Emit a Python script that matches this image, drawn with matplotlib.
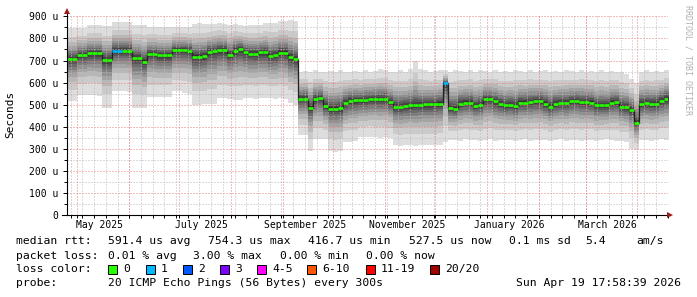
import matplotlib
matplotlib.use("Agg")
import matplotlib.pyplot as plt
import matplotlib.dates as mdates
from matplotlib.lines import Line2D
from matplotlib.patches import Rectangle
from datetime import datetime, timedelta
import numpy as np

W, H = 697, 297
plt.rcParams['font.family'] = ['DejaVu Sans Mono']

# time frame of the graph (3 day steps)
start = datetime(2025, 4, 24, 18, 0)
end = datetime(2026, 4, 19, 6, 0)
step_days = 3

# median rtt per step (microseconds)
median = [707, 707, 725, 725, 733, 733, 733, 703, 703, 745,
          745, 745, 745, 712, 712, 695, 730, 730, 724, 724,
          724, 748, 748, 748, 745, 718, 718, 722, 740, 742,
          749, 749, 727, 745, 752, 740, 731, 731, 738, 738,
          722, 725, 736, 736, 714, 706, 528, 528, 487, 525,
          532, 495, 482, 482, 485, 509, 518, 520, 520, 522,
          525, 527, 525, 527, 512, 492, 490, 495, 497, 498,
          500, 502, 502, 504, 505, 597, 485, 482, 505, 510,
          510, 494, 500, 525, 525, 515, 505, 497, 500, 495,
          510, 510, 512, 516, 516, 505, 492, 505, 508, 508,
          515, 517, 512, 512, 510, 497, 497, 497, 510, 512,
          492, 490, 478, 418, 505, 508, 505, 505, 518, 528]

# slowest ping per step
hi = [846, 846, 846, 846, 860, 860, 860, 855, 855, 876,
      876, 876, 876, 860, 860, 860, 853, 853, 853, 853,
      853, 852, 852, 852, 852, 865, 868, 866, 864, 866,
      870, 866, 862, 866, 860, 858, 860, 862, 860, 870,
      870, 870, 880, 878, 882, 880, 648, 652, 650, 655,
      650, 648, 652, 650, 655, 650, 648, 652, 650, 655,
      650, 652, 660, 655, 650, 650, 655, 650, 660, 700,
      660, 655, 650, 652, 655, 655, 650, 655, 652, 650,
      655, 650, 655, 652, 650, 655, 650, 652, 650, 655,
      652, 650, 655, 650, 652, 655, 650, 652, 650, 655,
      652, 650, 655, 650, 652, 650, 655, 650, 652, 650,
      648, 640, 615, 600, 650, 655, 650, 652, 650, 655]

# fastest ping per step
lo = [515, 515, 543, 543, 545, 543, 540, 487, 487, 560,
      562, 560, 558, 485, 485, 485, 537, 535, 537, 537,
      535, 560, 560, 555, 550, 500, 500, 502, 505, 505,
      530, 530, 528, 520, 520, 530, 532, 528, 530, 532,
      530, 528, 530, 525, 510, 498, 362, 362, 290, 344,
      344, 344, 290, 288, 290, 332, 332, 335, 352, 352,
      355, 352, 350, 352, 350, 317, 315, 317, 320, 315,
      317, 318, 316, 317, 318, 330, 342, 340, 338, 344,
      340, 342, 336, 340, 344, 338, 340, 342, 340, 336,
      340, 344, 338, 340, 342, 340, 335, 340, 344, 338,
      342, 340, 336, 340, 342, 338, 340, 344, 340, 338,
      335, 330, 300, 294, 340, 342, 338, 340, 344, 340]

# lost pings per step
loss = [0, 0, 0, 0, 0, 0, 0, 0, 0, 1, 1, 0, 0, 0, 0, 0, 0, 0, 0, 0,
        0, 0, 0, 0, 0, 0, 0, 0, 0, 0, 0, 0, 0, 0, 0, 0, 0, 0, 0, 0,
        0, 0, 0, 0, 0, 0, 0, 0, 0, 0, 0, 0, 0, 0, 0, 0, 0, 0, 0, 0,
        0, 0, 0, 0, 0, 0, 0, 0, 0, 0, 0, 0, 0, 0, 0, 1, 0, 0, 0, 0,
        0, 0, 0, 0, 0, 0, 0, 0, 0, 0, 0, 0, 0, 0, 0, 0, 0, 0, 0, 0,
        0, 0, 0, 0, 0, 0, 0, 0, 0, 0, 0, 0, 0, 0, 0, 0, 0, 0, 0, 0]

loss_labels = ["0", "1", "2", "3", "4-5", "6-10", "11-19", "20/20"]
loss_colors = ["#26ff00", "#00b8ff", "#0059ff", "#7e00ff",
               "#ff00ff", "#ff5500", "#ff0000", "#a10000"]

month_labels = ["May 2025", "July 2025", "September 2025",
                "November 2025", "January 2026", "March 2026"]
label_months = [(2025, 5), (2025, 7), (2025, 9), (2025, 11), (2026, 1), (2026, 3)]

# smoke shades, outermost pair of pings first
smoke_grays = ["#dddddd", "#cacaca", "#b7b7b7", "#a4a4a4", "#919191",
               "#7e7e7e", "#6b6b6b", "#585858", "#454545", "#323232"]
smoke_spread = [1.0, 0.72, 0.55, 0.43, 0.34, 0.26, 0.19, 0.13, 0.08, 0.035]


def fx(x):
    return x / W


def fy(y):
    return 1 - y / H


med = np.array(median, dtype=float)
up = np.array(hi, dtype=float)
dn = np.array(lo, dtype=float)
n = len(med)
edges = mdates.date2num([start + timedelta(days=step_days * i) for i in range(n + 1)])

fig = plt.figure(figsize=(W / 100, H / 100), dpi=100)
fig.patch.set_facecolor("white")
ax = fig.add_axes([fx(67), fy(215.3), fx(601), 199 / H])
ax.set_xlim(mdates.date2num(start), mdates.date2num(end))
ax.set_ylim(0, 900)
for s in ax.spines.values():
    s.set_visible(False)

# smoke
for gray, f in zip(smoke_grays, smoke_spread):
    top = med + (up - med) * f
    bot = med - (med - dn) * f
    ax.fill_between(edges, np.append(bot, bot[-1]), np.append(top, top[-1]),
                    step="post", color=gray, lw=0, zorder=1)

# grid
dot = (0, (1, 2))
grid_gray = "#b8b8b8"
grid_red = "#e87c7c"
for v in range(50, 901, 100):
    ax.axhline(v, color=grid_gray, lw=0.72, ls=dot, zorder=2)
for v in range(100, 901, 100):
    ax.axhline(v, color=grid_red, lw=0.72, ls=dot, zorder=2)

weeks = []
d = datetime(2025, 4, 27)
while d < end:
    weeks.append(mdates.date2num(d))
    d += timedelta(days=7)
months = []
for y, m in [(2025, m) for m in range(5, 13)] + [(2026, m) for m in range(1, 5)]:
    months.append(mdates.date2num(datetime(y, m, 1)))
for w in weeks:
    ax.axvline(w, color=grid_gray, lw=0.72, ls=dot, zorder=2)
for mo in months:
    ax.axvline(mo, color=grid_red, lw=0.72, ls=dot, zorder=2)

# median line
ax.step(edges, np.append(med, med[-1]), where="post", color="#202020", lw=0.9, zorder=3)
ax.hlines(med, edges[:-1], edges[1:], colors=[loss_colors[l] for l in loss],
          lw=1.9, zorder=4)

# ticks
label_pos = [mdates.date2num(datetime(y, m, 1) + timedelta(days=13)) for y, m in label_months]
ax.set_xticks(label_pos)
ax.set_xticklabels(month_labels, fontsize=7)
ax.set_xticks(weeks + months, minor=True)
ax.tick_params(axis="x", which="major", length=0, pad=3.2)
ax.tick_params(axis="x", which="minor", length=2, width=0.7, color="black")
ax.set_yticks(range(0, 901, 100))
ax.set_yticklabels(["0"] + ["%d u" % v for v in range(100, 901, 100)], fontsize=7)
ax.set_yticks(range(50, 900, 100), minor=True)
ax.tick_params(axis="y", which="major", length=3, width=0.7, pad=3.5)
ax.tick_params(axis="y", which="minor", length=2, width=0.7)

# axis lines with arrows
fig.add_artist(Line2D([fx(62), fx(668)], [fy(215.3), fy(215.3)], color="black", lw=0.8))
fig.add_artist(Line2D([fx(67), fx(67)], [fy(215.3), fy(12)], color="black", lw=0.8))
fig.add_artist(Line2D([fx(670)], [fy(215.3)], marker=">", ms=4.5, color="#9b1b1b", mew=0))
fig.add_artist(Line2D([fx(67)], [fy(10.5)], marker="^", ms=4.5, color="#9b1b1b", mew=0))

fig.text(fx(10.5), fy(114), "Seconds", rotation=90, ha="center", va="center", fontsize=8)
fig.text(fx(688), fy(5), "RRDTOOL / TOBI OETIKER", rotation=-90, ha="center", va="top",
         fontsize=6, color="#b0b0b0")

# legend
fs = 8.2
rows = [
    (241, [(16, "median rtt:"), (108, "591.4 us avg"), (208, "754.3 us max"),
           (308, "416.7 us min"), (409, "527.5 us now"), (509, "0.1 ms sd"),
           (585, "5.4"), (636, "am/s")]),
    (256, [(16, "packet loss:"), (108, "0.01 % avg"), (193, "3.00 % max"),
           (280, "0.00 % min"), (366, "0.00 % now")]),
    (269, [(16, "loss color:")]),
    (283, [(16, "probe:"), (108, "20 ICMP Echo Pings (56 Bytes) every 300s")]),
]
for yy, items in rows:
    for xx, txt in items:
        fig.text(fx(xx), fy(yy), txt, ha="left", va="center", fontsize=fs)
fig.text(fx(681), fy(283), "Sun Apr 19 17:58:39 2026", ha="right", va="center", fontsize=fs)

box_x = [108, 146, 183, 220, 257, 307, 366, 430]
for bx, lab, col in zip(box_x, loss_labels, loss_colors):
    fig.add_artist(Rectangle((fx(bx), fy(273.5)), 9 / W, 9 / H, facecolor=col,
                             edgecolor="black", lw=0.7, transform=fig.transFigure))
    fig.text(fx(bx + 15), fy(269), lab, ha="left", va="center", fontsize=fs)

fig.savefig("out.png", dpi=100)
